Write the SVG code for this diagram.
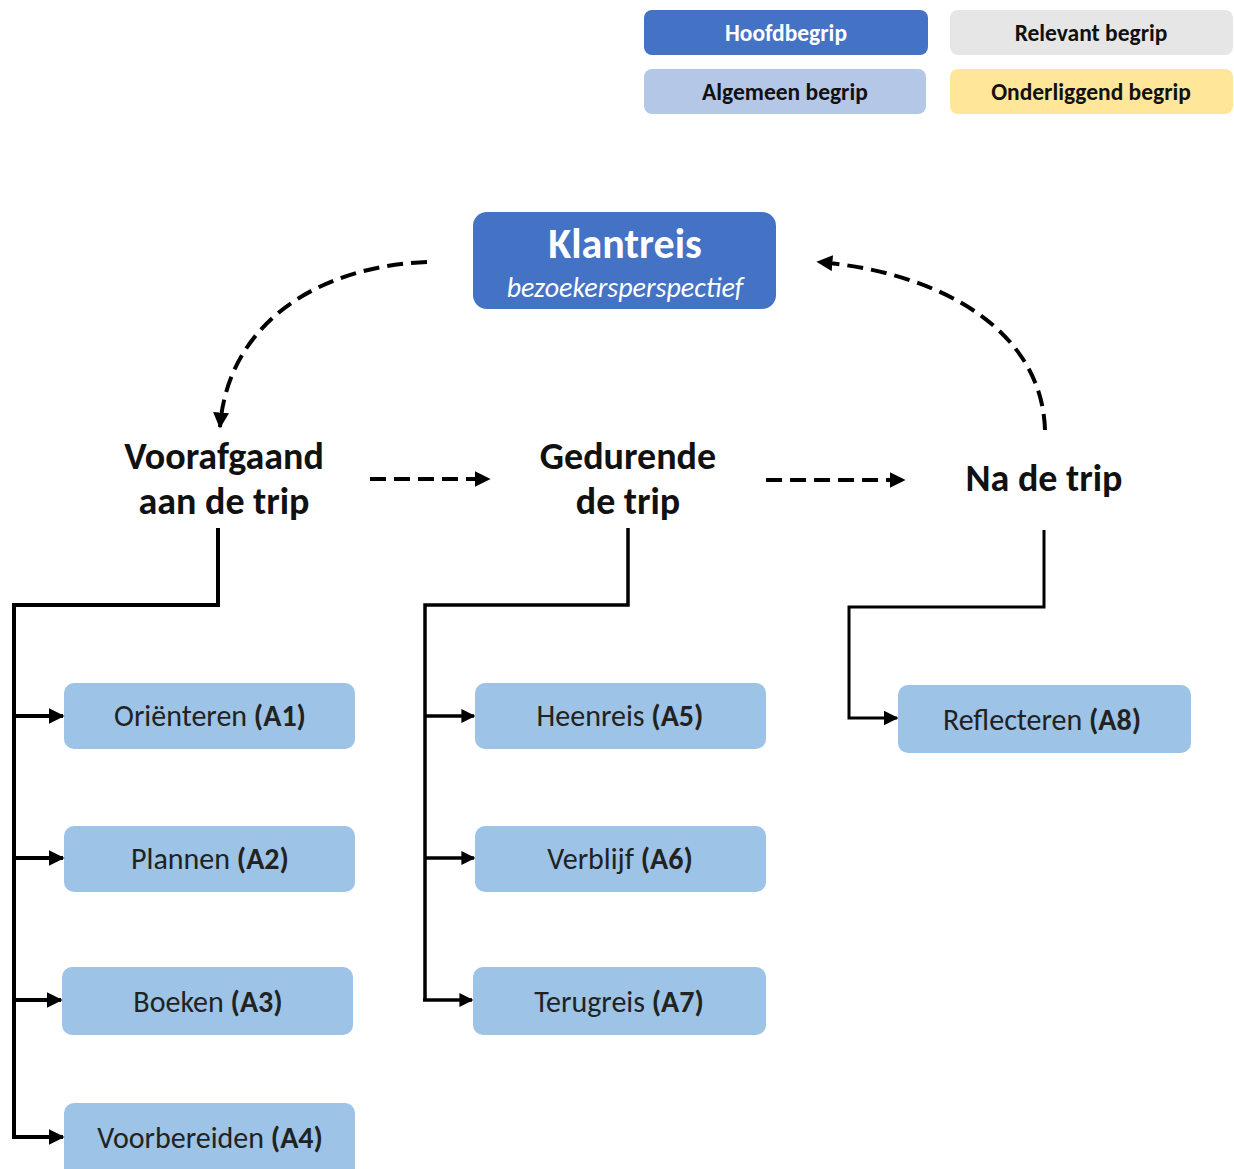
<svg xmlns="http://www.w3.org/2000/svg" width="1234" height="1169" viewBox="0 0 1234 1169">
  <style>
    text { font-family: Carlito, Lato, "Liberation Sans", sans-serif; text-anchor: middle; }
    .legend { font-size: 23.5px; font-weight: bold; fill: #111; }
    .phase { font-size: 38px; font-weight: bold; fill: #111; }
    .step { font-size: 30px; fill: #222; }
    .step tspan.code { font-weight: bold; }
    .stepbox { fill: #9DC3E6; }
    .tree { fill: none; stroke: #000; stroke-width: 4; }
    .dash { fill: none; stroke: #000; stroke-width: 4; stroke-dasharray: 16 8; }
  </style>
  <defs>
    <marker id="tri" viewBox="0 0 10 10" refX="9" refY="5" markerWidth="4" markerHeight="4" markerUnits="strokeWidth" orient="auto">
      <path d="M0,0 L10,5 L0,10 Z" fill="#000"/>
    </marker>
    <marker id="triThin" viewBox="0 0 10 10" refX="9" refY="5" markerWidth="5" markerHeight="5" markerUnits="strokeWidth" orient="auto">
      <path d="M0,0 L10,5 L0,10 Z" fill="#000"/>
    </marker>
    <marker id="triDash" viewBox="0 0 10 10" refX="9" refY="5" markerWidth="4" markerHeight="4" markerUnits="strokeWidth" orient="auto">
      <path d="M0,0 L10,5 L0,10 Z" fill="#000"/>
    </marker>
  </defs>

  <!-- legend -->
  <g id="legend-hoofdbegrip">
    <rect x="644" y="10" width="284" height="45" rx="8" fill="#4472C4"/>
    <text class="legend" x="786" y="41" style="fill:#fff">Hoofdbegrip</text>
  </g>
  <g id="legend-relevant">
    <rect x="950" y="10" width="283" height="45" rx="8" fill="#E7E6E6"/>
    <text class="legend" x="1091" y="41">Relevant begrip</text>
  </g>
  <g id="legend-algemeen">
    <rect x="644" y="69" width="282" height="45" rx="8" fill="#B4C7E7"/>
    <text class="legend" x="785" y="100">Algemeen begrip</text>
  </g>
  <g id="legend-onderliggend">
    <rect x="950" y="69" width="283" height="45" rx="8" fill="#FFE699"/>
    <text class="legend" x="1091" y="100">Onderliggend begrip</text>
  </g>

  <!-- main concept -->
  <g id="klantreis">
    <rect x="473" y="212" width="303" height="97" rx="14" fill="#4472C4"/>
    <text x="625" y="258" font-size="42" font-weight="bold" fill="#fff">Klantreis</text>
    <text x="625" y="297" font-size="28" font-style="italic" fill="#fff">bezoekersperspectief</text>
  </g>

  <!-- phases -->
  <g id="voorafgaand">
    <text class="phase" x="224" y="469">Voorafgaand</text>
    <text class="phase" x="224" y="514">aan de trip</text>
  </g>
  <g id="gedurende">
    <text class="phase" x="628" y="469">Gedurende</text>
    <text class="phase" x="628" y="514">de trip</text>
  </g>
  <g id="na-de-trip">
    <text class="phase" x="1044" y="491">Na de trip</text>
  </g>

  <!-- steps -->
  <g id="a1">
    <rect class="stepbox" x="64" y="683" width="291" height="66" rx="10"/>
    <text class="step" x="210" y="726">Oriënteren <tspan class="code">(A1)</tspan></text>
  </g>
  <g id="a2">
    <rect class="stepbox" x="64" y="826" width="291" height="66" rx="10"/>
    <text class="step" x="210" y="869">Plannen <tspan class="code">(A2)</tspan></text>
  </g>
  <g id="a3">
    <rect class="stepbox" x="62" y="967" width="291" height="68" rx="10"/>
    <text class="step" x="208" y="1012">Boeken <tspan class="code">(A3)</tspan></text>
  </g>
  <g id="a4">
    <rect class="stepbox" x="64" y="1103" width="291" height="80" rx="10"/>
    <text class="step" x="210" y="1148">Voorbereiden <tspan class="code">(A4)</tspan></text>
  </g>
  <g id="a5">
    <rect class="stepbox" x="475" y="683" width="291" height="66" rx="10"/>
    <text class="step" x="620" y="726">Heenreis <tspan class="code">(A5)</tspan></text>
  </g>
  <g id="a6">
    <rect class="stepbox" x="475" y="826" width="291" height="66" rx="10"/>
    <text class="step" x="620" y="869">Verblijf <tspan class="code">(A6)</tspan></text>
  </g>
  <g id="a7">
    <rect class="stepbox" x="473" y="967" width="293" height="68" rx="10"/>
    <text class="step" x="619" y="1012">Terugreis <tspan class="code">(A7)</tspan></text>
  </g>
  <g id="a8">
    <rect class="stepbox" x="898" y="685" width="293" height="68" rx="10"/>
    <text class="step" x="1042" y="730">Reflecteren <tspan class="code">(A8)</tspan></text>
  </g>

  <!-- connectors -->
  <g id="connectors">
    <!-- cycle between phases and main concept -->
    <path class="dash" d="M427,262 C320,266 228,322 220,427" marker-end="url(#triDash)"/>
    <path class="dash" d="M1045,430 C1042,330 940,272 818,262" marker-end="url(#triDash)"/>
    <path class="dash" d="M370,479 L489,479" marker-end="url(#triDash)"/>
    <path class="dash" d="M766,480 L904,480" marker-end="url(#triDash)"/>

    <!-- left tree -->
    <path class="tree" d="M218,528 V605 H14 V1137"/>
    <path class="tree" d="M14,716 H63" marker-end="url(#tri)"/>
    <path class="tree" d="M14,858 H63" marker-end="url(#tri)"/>
    <path class="tree" d="M14,1000 H61" marker-end="url(#tri)"/>
    <path class="tree" d="M12,1137 H63" marker-end="url(#tri)"/>

    <!-- middle tree -->
    <path class="tree" d="M628,528 V605 H425 V1000" style="stroke-width:3.5"/>
    <path class="tree" d="M425,716 H474" style="stroke-width:3.5" marker-end="url(#tri)"/>
    <path class="tree" d="M425,858 H474" style="stroke-width:3.5" marker-end="url(#tri)"/>
    <path class="tree" d="M423,1000 H472" style="stroke-width:3.5" marker-end="url(#tri)"/>

    <!-- right tree -->
    <path class="tree" d="M1044,530 V607 H849 V718 H897" style="stroke-width:3" marker-end="url(#triThin)"/>
  </g>
</svg>
